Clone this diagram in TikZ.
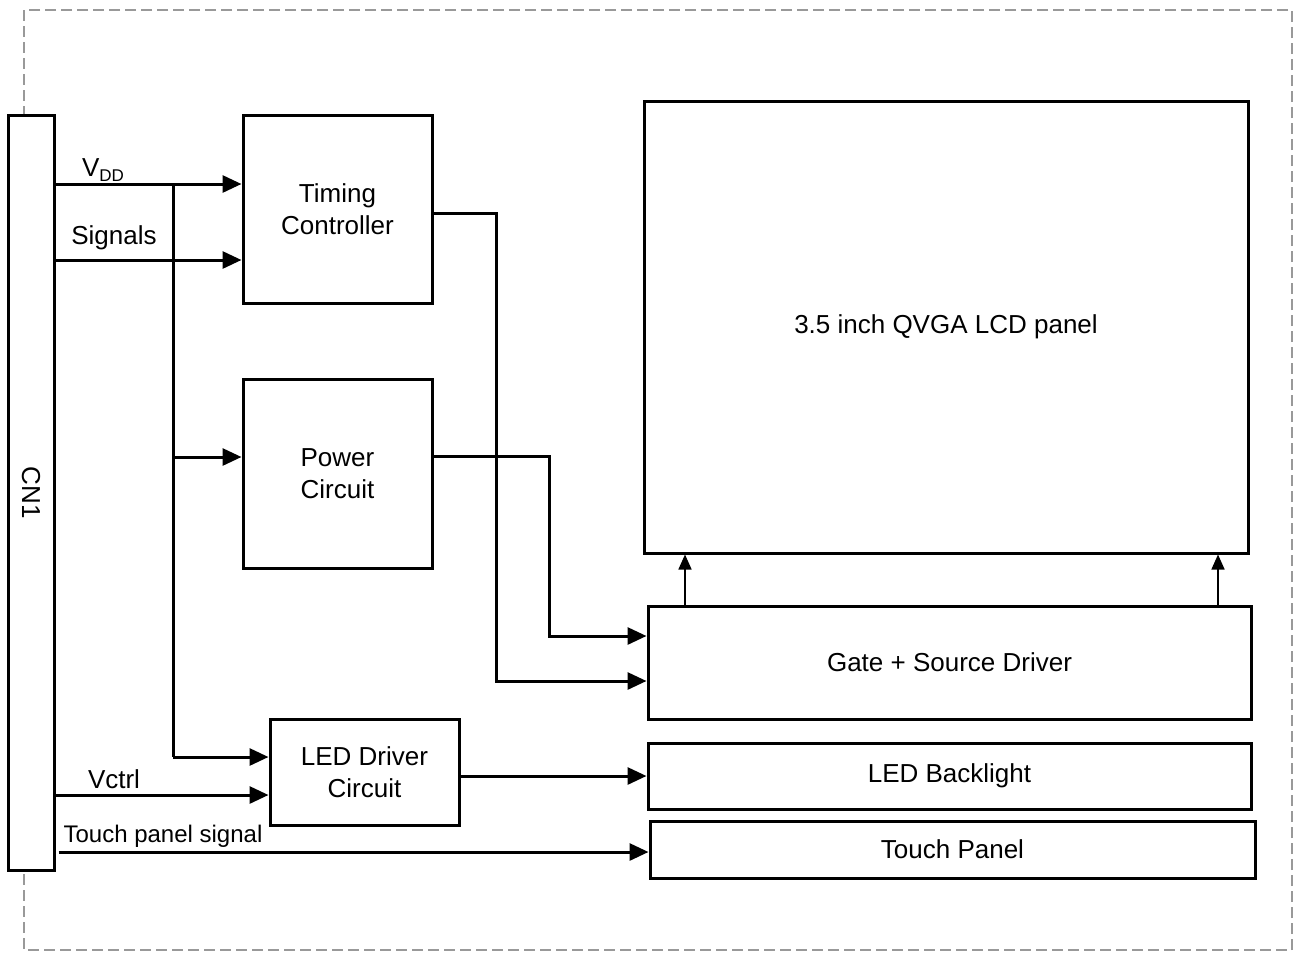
\documentclass[tikz,border=0pt]{standalone}
\usepackage{fontspec}
\setmainfont{Liberation Sans}
\usetikzlibrary{arrows.meta}
\tikzset{
  blk/.style={draw, line width=3pt, fill=white, inner sep=0pt, align=center,
    font=\fontsize{26}{32}\selectfont},
  lbl/.style={font=\fontsize{26}{32}\selectfont, inner sep=0pt},
  wire/.style={line width=3pt},
  conn/.style={wire, -{Triangle[length=19pt,width=17pt]}},
  uparr/.style={line width=1.6pt, -{Triangle[length=15pt,width=13pt]}},
}
\begin{document}
\begin{tikzpicture}[x=1pt, y=-1pt]
  \useasboundingbox (0,0) rectangle (1297,954);
  \draw[gray!80, line width=1.3pt, dash pattern=on 11pt off 5pt] (24,10) rectangle (1292,950);

  % blocks
  \node[blk, minimum width=46pt, minimum height=755pt] (cn1) at (31,492.5) {};
  \node[lbl, rotate=-90] (cn1txt) at (cn1.center) {CN1};
  \node[blk, minimum width=189pt, minimum height=188pt] (tc) at (337.5,209) {Timing\\Controller};
  \node[blk, minimum width=189pt, minimum height=189pt] (pwr) at (337.5,473.5) {Power\\Circuit};
  \node[blk, minimum width=604pt, minimum height=452pt] (lcd) at (946,327) {3.5 inch QVGA LCD panel};
  \node[blk, minimum width=603pt, minimum height=113pt] (drv) at (949.5,662.5) {Gate + Source Driver};
  \node[blk, minimum width=189pt, minimum height=106pt] (led) at (364.5,772) {LED Driver\\Circuit};
  \node[blk, minimum width=603pt, minimum height=66pt] (bl) at (949.5,776) {LED Backlight};
  \node[blk, minimum width=605pt, minimum height=57pt] (tp) at (952.5,849.5) {Touch Panel};

  % levels of the wires
  \coordinate (vdd) at (0,184);
  \coordinate (sig) at (0,260);
  \coordinate (bus) at (173,0);
  \coordinate (pin) at (0,457);
  \coordinate (lin) at (0,757);
  \coordinate (vct) at (0,795);
  \coordinate (tps) at (0,852);
  \coordinate (tcout) at (496,213);
  \coordinate (pwout) at (549,456);
  \coordinate (drva) at (0,636);
  \coordinate (drvb) at (0,681);
  \coordinate (upa) at (685,0);
  \coordinate (upb) at (1218,0);

  % connectors
  \draw[conn] (cn1.east |- vdd) -- (tc.west |- vdd);
  \draw[conn] (cn1.east |- sig) -- (tc.west |- sig);
  \draw[wire] (bus |- vdd) -- (bus |- lin);
  \draw[conn] (bus |- pin) -- (pwr.west |- pin);
  \draw[conn] (bus |- lin) -- (led.west |- lin);
  \draw[conn] (cn1.east |- vct) -- (led.west |- vct);
  \draw[conn] ([xshift=3pt]cn1.east |- tps) -- (tp.west |- tps);
  \draw[conn] (tc.east |- tcout) -- (tcout) -- (tcout |- drvb) -- (drv.west |- drvb);
  \draw[conn] (pwr.east |- pwout) -- (pwout) -- (pwout |- drva) -- (drv.west |- drva);
  \draw[conn] (led.east |- bl.west) -- (bl.west);
  \draw[uparr] (upa |- drv.north) -- (upa |- lcd.south);
  \draw[uparr] (upb |- drv.north) -- (upb |- lcd.south);

  % labels
  \node[lbl] (vddtxt) at (103,170) {V\raisebox{-0.35ex}{\fontsize{17}{17}\selectfont DD}};
  \node[lbl] (sigtxt) at (114,238) {Signals};
  \node[lbl] (vcttxt) at (114,779) {Vctrl};
  \node[lbl, font=\fontsize{24}{28}\selectfont] (tpstxt) at (163,836) {Touch panel signal};
\end{tikzpicture}
\end{document}
